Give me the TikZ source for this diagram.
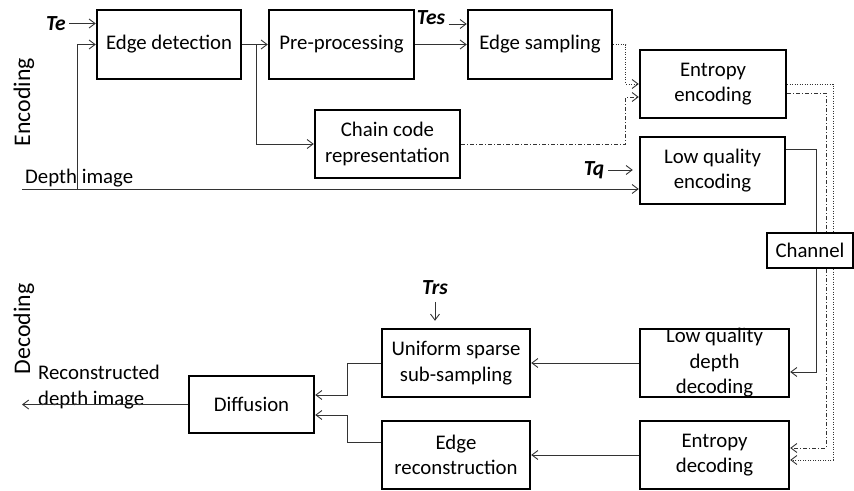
\documentclass[tikz,border=0pt]{standalone}
\usepackage{fontspec}
\setmainfont{Carlito}
\usetikzlibrary{arrows.meta}
\usetikzlibrary{calc}
\tikzset{
 blk/.style={draw, line width=2.4pt, minimum width=#1, minimum height=68pt, inner xsep=2pt, inner ysep=0pt, align=center},
 blk/.default=144pt,
 wire/.style={draw=black!80, line width=0.9pt},
 parm/.style={inner sep=3.5pt, font=\fontsize{21.5}{25.5}\selectfont\bfseries\itshape},
 side/.style={rotate=90, font=\fontsize{23.8}{28}\selectfont},
 dotline/.style={dash pattern=on 1pt off 1.5pt},
 dashdotline/.style={dash pattern=on 4pt off 2pt on 1pt off 2pt}
}

\begin{document}
\begin{tikzpicture}[x=1pt, y=-1pt, font=\fontsize{20.8}{25.5}\selectfont, >={Straight Barb[length=6pt,width=9pt]}]
\useasboundingbox (0,0) rectangle (854,490);
\node[blk, minimum height=69pt] (det) at (169,44.5) {Edge detection};
\node[blk=145pt, minimum height=69pt] (pre) at (341.5,44.5) {Pre-processing};
\node[blk, minimum height=69pt] (samp) at (540,44.5) {Edge sampling};
\node[blk=146pt] (ent) at (713,84) {Entropy\\encoding};
\node[blk=145pt] (chain) at (387.5,144) {Chain code\\representation};
\node[blk=145pt, minimum height=67pt] (lqe) at (712.5,170.5) {Low quality\\encoding};
\node[blk=86pt, minimum height=35pt] (chan) at (810,250.5) {Channel};
\node[blk=149pt, inner ysep=-5pt] (lqd) at (714.5,363) {Low quality\\depth\\decoding};
\node[blk=149pt] (entd) at (714.5,455) {Entropy\\decoding};
\node[blk=148pt] (unif) at (456,363) {Uniform sparse\\sub-sampling};
\node[blk=148pt] (edger) at (456,455) {Edge\\reconstruction};
\node[blk=125pt, minimum height=57pt] (diff) at (251.5,404.5) {Diffusion};

\node[side] (enc) at (24,102) {Encoding};
\node[side] (dec) at (24,329) {Decoding};
\node[parm] (te) at (56,23.5) {Te};
\node[parm] (tes) at (431,18) {Tes};
\node[parm] (tq) at (594,170) {Tq};
\node[parm] (trs) at (435,288) {Trs};

\coordinate (din) at (22,189);
\coordinate (dsplit) at (77,189);
\coordinate (br) at (256,44.5);
\coordinate (tesin) at ([yshift=-6pt]tes.east);
\coordinate (dout) at (22,406);
\node[anchor=south west, inner sep=0pt] (dlbl) at ($(din)+(3,-2)$) {Depth image};
\node[anchor=north west, align=left, inner sep=0pt] (rec) at (38,365) {Reconstructed\\depth image};

\draw[wire,->] (te.east) -- (te -| det.west);
\draw[wire,->] (din) -- (din -| lqe.west);
\draw[wire,->] (dsplit) |- (det.west);
\draw[wire,->] (det) -- (pre);
\draw[wire,->] (br) |- (chain.west);
\draw[wire,->] (pre) -- (samp);
\draw[wire,->] (tesin) -- (tesin -| samp.west);
\draw[wire,->,dotline] (samp.east) -| ([xshift=-13pt]ent.west) -- (ent.west);
\draw[wire,->,dashdotline] (chain.east) -| ([xshift=-13pt,yshift=-13pt]ent.west) -- ([yshift=-13pt]ent.west);
\draw[wire,->,shorten >=6pt] (tq.east) -- (tq -| lqe.west);

\draw[wire,dotline] (ent.east) -| ([xshift=23pt]chan.north);
\draw[wire,dashdotline] ([yshift=-9pt]ent.east) -| ([xshift=16pt]chan.north);
\draw[wire] ([yshift=21.5pt]lqe.east) -| ([xshift=6pt]chan.north);
\draw[wire,->] ([xshift=6pt]chan.south) |- ([yshift=-9pt]lqd.east);
\draw[wire,->,dashdotline] ([xshift=16pt]chan.south) |- ([yshift=7pt]entd.east);
\draw[wire,->,dotline] ([xshift=23pt]chan.south) |- ([yshift=-5pt]entd.east);

\draw[wire,->] (lqd) -- (unif);
\draw[wire,->] (entd) -- (edger);
\draw[wire,->,shorten <=3pt,shorten >=7pt] (trs.south) -- (trs.south |- unif.north);
\draw[wire,->] (unif.west) -- ++(-33,0) |- ([yshift=9.5pt]diff.east);
\draw[wire,->] ([yshift=13pt]edger.west) -- ++(-33,0) |- ([yshift=-10.5pt]diff.east);
\draw[wire,->] (diff.west) -- (diff.west -| dout);
\end{tikzpicture}
\end{document}
